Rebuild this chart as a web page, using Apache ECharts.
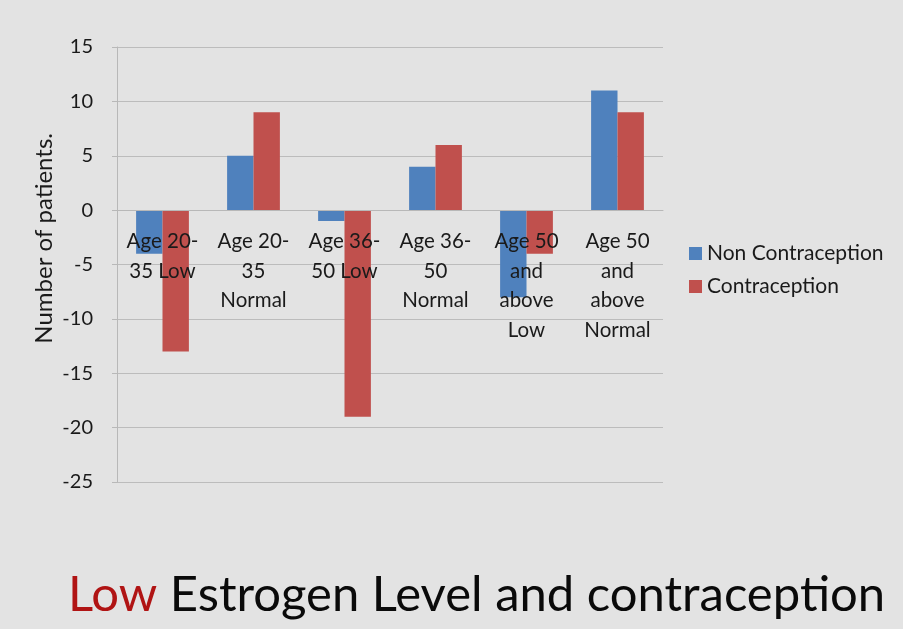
<!DOCTYPE html>
<html>
<head>
<meta charset="utf-8">
<script src="https://cdn.jsdelivr.net/npm/echarts@6/dist/echarts.min.js"></script>
<style>
html,body{margin:0;padding:0;background:#e3e3e3;}
#chart{width:903px;height:629px;}
</style>
</head>
<body>
<div id="chart"></div>
<script>
var categories = ["Age 20-\n35 Low", "Age 20-\n35\nNormal", "Age 36-\n50 Low", "Age 36-\n50\nNormal", "Age 50\nand\nabove\nLow", "Age 50\nand\nabove\nNormal"];
var nonContraception = [-4, 5, -1, 4, -8, 11];
var contraception = [-13, 9, -19, 6, -4, 9];
var seriesNames = ["Non Contraception", "Contraception"];
var yMin = -25, yMax = 15, yStep = 5;

var gridTop = 47, gridBottom = 147, chartH = 629;
var plotH = chartH - gridTop - gridBottom;
var zeroOffset = -plotH * (0 - yMin) / (yMax - yMin);

var chart = echarts.init(document.getElementById('chart'));
var font = 'Lato, "Open Sans", sans-serif';
chart.setOption({
  backgroundColor: '#e3e3e3',
  animation: false,
  grid: {left: 117, right: 240, top: gridTop, bottom: gridBottom, containLabel: false},
  legend: {
    orient: 'vertical',
    left: 684, top: 238,
    itemWidth: 13, itemHeight: 13, itemGap: 12,
    icon: 'rect',
    textStyle: {fontFamily: font, fontSize: 21, color: '#1a1a1a'},
    data: seriesNames
  },
  xAxis: {
    type: 'category',
    data: categories,
    position: 'bottom',
    offset: zeroOffset,
    z: 10,
    axisLine: {onZero: false, lineStyle: {color: '#b8b8b8', width: 1}},
    axisTick: {show: false},
    axisLabel: {fontFamily: font, fontSize: 20.5, color: '#1a1a1a', lineHeight: 29.5, margin: 17, interval: 0}
  },
  yAxis: {
    type: 'value',
    min: yMin, max: yMax, interval: yStep,
    axisLine: {show: true, lineStyle: {color: '#b8b8b8'}},
    axisTick: {show: true, length: 5, lineStyle: {color: '#b8b8b8'}},
    splitLine: {lineStyle: {color: '#bcbcbc'}},
    axisLabel: {fontFamily: font, fontSize: 20, color: '#1a1a1a', margin: 24}
  },
  graphic: [
    {type: 'text', left: 32, top: 133, rotation: Math.PI/2,
     style: {text: 'Number of patients.', fontFamily: font, fontSize: 24, fill: '#1a1a1a'}},
    {type: 'text', left: 68, top: 571,
     style: {rich: {r: {fill: '#b01414', fontSize: 49, fontFamily: font}, b: {fill: '#0a0a0a', fontSize: 49, fontFamily: font}},
             text: '{r|Low }{b|Estrogen Level and contraception}'}}
  ],
  series: [
    {name: seriesNames[0], type: 'bar', data: nonContraception, barGap: '0%', barCategoryGap: '42%', itemStyle: {color: '#4f81bd'}},
    {name: seriesNames[1], type: 'bar', data: contraception, barGap: '0%', barCategoryGap: '42%', itemStyle: {color: '#c0504d'}}
  ]
});
</script>
</body>
</html>
